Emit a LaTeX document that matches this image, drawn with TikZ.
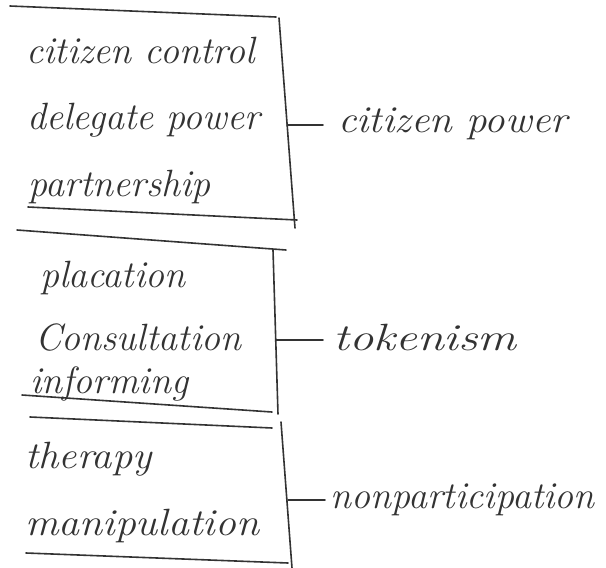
\documentclass[tikz,border=0pt]{standalone}
\begin{document}
\begin{tikzpicture}[x=1pt,y=-1pt,
  ink/.style={draw=black!80,line width=1.6pt,line cap=round},
  hand/.style={anchor=base west,inner sep=0pt,text=black!80,transform shape,font=\fontsize{38}{44}\selectfont\itshape},
]
\useasboundingbox (0,0) rectangle (606,568);
% box 1
\coordinate (t1a) at (10,6);   \coordinate (t1b) at (276,17);
\coordinate (r1a) at (279,18); \coordinate (r1b) at (295,228);
\coordinate (b1a) at (28,207); \coordinate (b1b) at (297,220);
\coordinate (c1) at (287,125);
\draw[ink] (t1a) -- (t1b);
\draw[ink] (r1a) -- (r1b);
\draw[ink] (b1a) -- (b1b);
\node[hand] (n1) at (26,63) {citizen control};
\node[hand] (n2) at (27,129) {delegate power};
\node[hand] (n3) at (28,196) {partnership};
\node[hand,xscale=1.08] (l1) at (338,132) {citizen power};
% box 2
\coordinate (t2a) at (17,230);  \coordinate (t2b) at (286,250);
\coordinate (r2a) at (273,250); \coordinate (r2b) at (278,414);
\coordinate (b2a) at (22,395);  \coordinate (b2b) at (272,412);
\coordinate (c2) at (276,340);
\draw[ink] (t2a) -- (t2b);
\draw[ink] (r2a) -- (r2b);
\draw[ink] (b2a) -- (b2b);
\node[hand] (n4) at (40,287) {placation};
\node[hand] (n5) at (35,350) {Consultation};
\node[hand] (n6) at (30,393) {informing};
\node[hand,xscale=1.28] (l2) at (333,350) {tokenism};
% box 3
\coordinate (t3a) at (30,417);  \coordinate (t3b) at (272,428);
\coordinate (r3a) at (281,422); \coordinate (r3b) at (292,568);
\coordinate (b3a) at (26,553);  \coordinate (b3b) at (288,563);
\coordinate (c3) at (288,500);
\draw[ink] (t3a) -- (t3b);
\draw[ink] (r3a) -- (r3b);
\draw[ink] (b3a) -- (b3b);
\node[hand,xscale=1.07] (n7) at (25,468) {therapy};
\node[hand,xscale=1.1] (n8) at (25,535) {manipulation};
\node[hand] (l3) at (330,508) {nonparticipation};
% connectors
\coordinate (e1) at (323,125);
\coordinate (e2) at (323,340);
\coordinate (e3) at (325,500);
\draw[ink] (c1) -- (e1);
\draw[ink] (c2) -- (e2);
\draw[ink] (c3) -- (e3);
\end{tikzpicture}
\end{document}
